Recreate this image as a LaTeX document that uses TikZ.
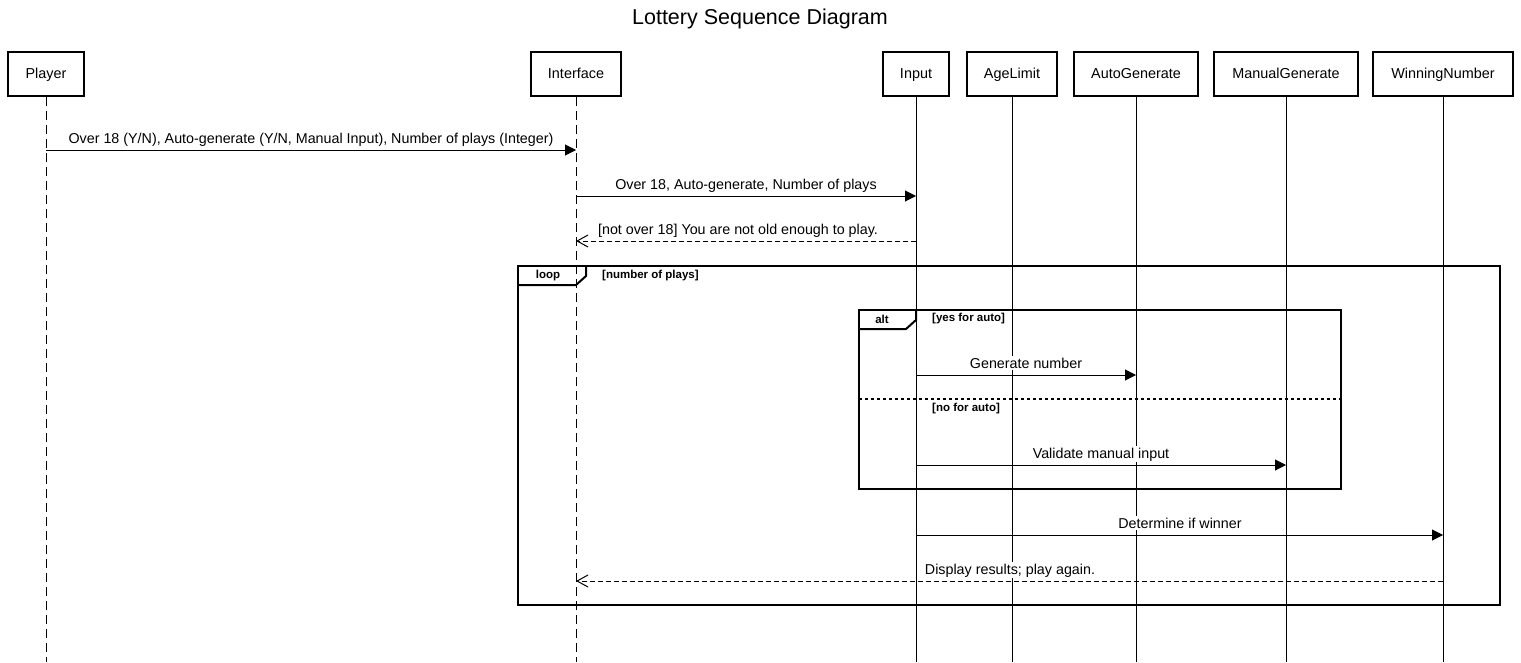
\documentclass[tikz,border=0pt]{standalone}
\usepackage{fontspec}
\setmainfont{Liberation Sans}
\usetikzlibrary{arrows.meta}
\begin{document}
\begin{tikzpicture}[x=1pt,y=-1pt,
  pbox/.style={draw,line width=2pt,minimum height=44pt,inner sep=0pt,text height=10.5pt,text depth=2.5pt,font=\fontsize{14.4}{16}\selectfont},
  lifesolid/.style={line width=1pt},
  lifedash/.style={line width=1pt,dash pattern=on 9pt off 5pt},
  msg/.style={line width=1pt,-{Triangle[length=11pt,width=11pt]}},
  ret/.style={line width=1pt,dash pattern=on 5pt off 3pt,-{Straight Barb[length=11pt,width=12pt,line width=1pt]}},
  lbl/.style={anchor=base,fill=white,inner sep=1.5pt,font=\fontsize{14.3}{16}\selectfont},
  frame/.style={line width=2pt},
  sepline/.style={line width=2pt,dash pattern=on 3pt off 3pt},
  flbl/.style={font=\bfseries\fontsize{11.5}{13}\selectfont,inner sep=0pt},
  ttl/.style={font=\fontsize{21.5}{25}\selectfont}
]
\useasboundingbox (0,0) rectangle (1521,662);
\node[ttl] (title) at (760,19) {Lottery Sequence Diagram};

% participants
\node[pbox,minimum width=76pt]  (player) at (46,74)   {Player};
\node[pbox,minimum width=90pt]  (iface)  at (576,74)  {Interface};
\node[pbox,minimum width=66pt]  (input)  at (916,74)  {Input};
\node[pbox,minimum width=90pt]  (age)    at (1012,74) {AgeLimit};
\node[pbox,minimum width=124pt] (auto)   at (1136,74) {AutoGenerate};
\node[pbox,minimum width=144pt] (manual) at (1286,74) {ManualGenerate};
\node[pbox,minimum width=140pt] (win)    at (1443,74) {WinningNumber};

% lifeline ends
\coordinate (playerE) at (player.south |- 0,662);
\coordinate (ifaceE)  at (iface.south |- 0,662);
\coordinate (inputE)  at (input.south |- 0,662);
\coordinate (ageE)    at (age.south |- 0,662);
\coordinate (autoE)   at (auto.south |- 0,662);
\coordinate (manualE) at (manual.south |- 0,662);
\coordinate (winE)    at (win.south |- 0,662);

\draw[lifedash]  (player.south) -- (playerE);
\draw[lifedash]  (iface.south)  -- (ifaceE);
\draw[lifesolid] (input.south)  -- (inputE);
\draw[lifesolid] (age.south)    -- (ageE);
\draw[lifesolid] (auto.south)   -- (autoE);
\draw[lifesolid] (manual.south) -- (manualE);
\draw[lifesolid] (win.south)    -- (winE);

% frames
\draw[frame] (518,266) rectangle (1500,605);
\draw[frame] (518,285) -- (576,285) -- (586,276) -- (586,266);
\node[flbl] (looplbl) at (548,275.5) {loop};
\node[flbl,anchor=west] (loopcond) at (602,275.5) {[number of plays]};

\draw[frame] (859,310) rectangle (1341,489);
\draw[frame] (859,329) -- (906,329) -- (916,320) -- (916,310);
\node[flbl] (altlbl) at (882,319) {alt};
\node[flbl,anchor=west] (altcond1) at (932,319) {[yes for auto]};
\draw[sepline] (859,399) -- (1341,399);
\node[flbl,anchor=west] (altcond2) at (932,408.5) {[no for auto]};

% messages
\node[lbl] (l1) at (311,143) {Over 18 (Y/N), Auto-generate (Y/N, Manual Input), Number of plays (Integer)};
\draw[msg] (player |- 0,150) -- (iface |- 0,150);

\node[lbl] (l2) at (746,189) {Over 18, Auto-generate, Number of plays};
\draw[msg] (iface |- 0,196) -- (input |- 0,196);

\node[lbl] (l3) at (738,234) {[not over 18] You are not old enough to play.};
\draw[ret] (input |- 0,241) -- (iface |- 0,241);

\node[lbl] (l4) at (1026,368) {Generate number};
\draw[msg] (input |- 0,375) -- (auto |- 0,375);

\node[lbl] (l5) at (1101,458) {Validate manual input};
\draw[msg] (input |- 0,465) -- (manual |- 0,465);

\node[lbl] (l6) at (1180,528) {Determine if winner};
\draw[msg] (input |- 0,535) -- (win |- 0,535);

\node[lbl] (l7) at (1010,574) {Display results; play again.};
\draw[ret] (win |- 0,581) -- (iface |- 0,581);
\end{tikzpicture}
\end{document}
